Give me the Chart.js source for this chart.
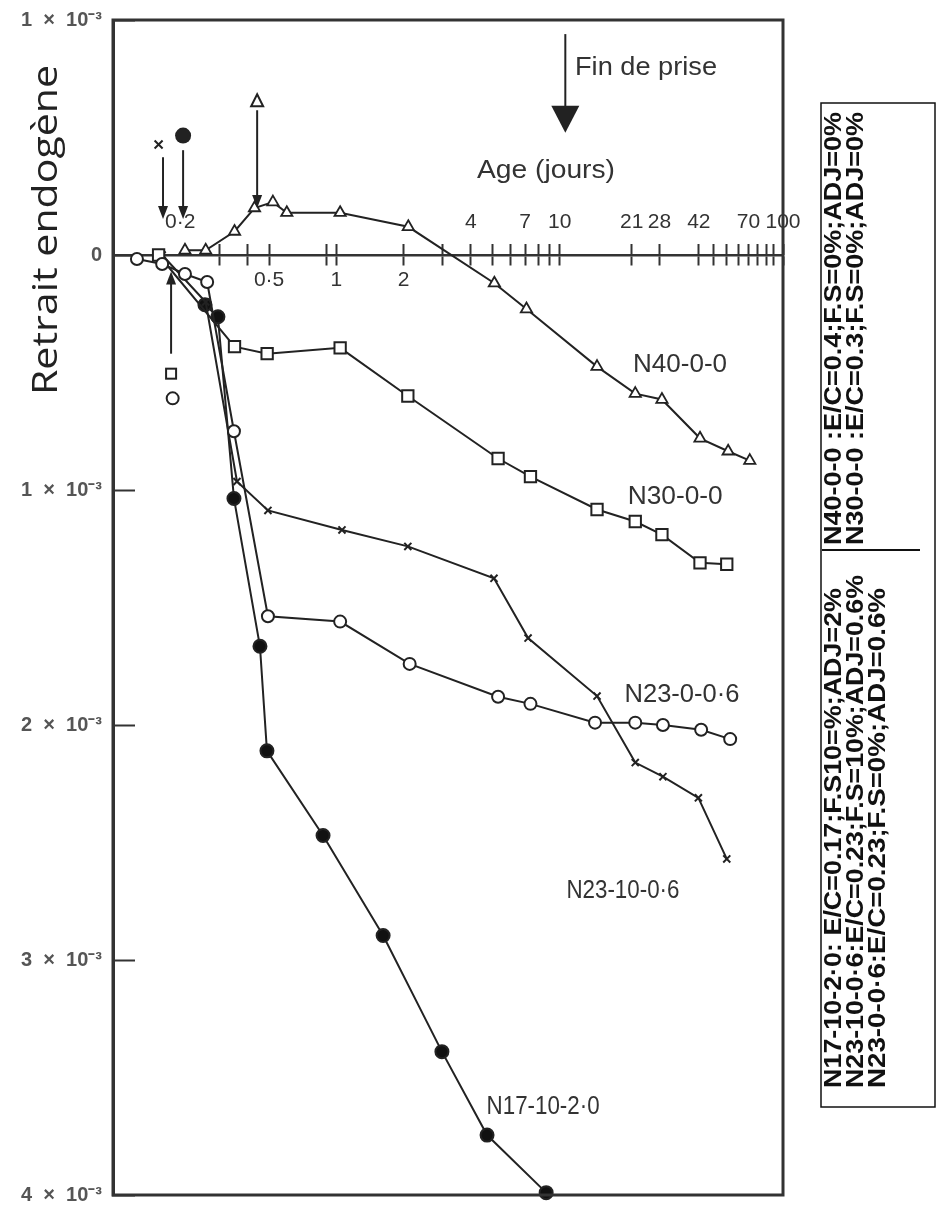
<!DOCTYPE html>
<html>
<head>
<meta charset="utf-8">
<script src="https://cdn.jsdelivr.net/npm/chart.js@4.4.1/dist/chart.umd.min.js"></script>
<style>
  html, body { margin: 0; padding: 0; background: #fff; }
  #wrap { width: 937px; height: 1207px; position: relative; }
</style>
</head>
<body>
<div id="wrap"><canvas id="chart"></canvas></div>
<script>
// Age in days, endogenous shrinkage in units of 1e-3 (positive = shrinkage, drawn downward)
const ageN40 = [0.21, 0.26, 0.35, 0.43, 0.52, 0.6, 1.04, 2.1, 5.1, 7.1, 14.7, 21.8, 28.7, 42.5, 56.8, 71];
const shrinkN40 = [-0.02, -0.02, -0.10, -0.20, -0.225, -0.18, -0.18, -0.12, 0.12, 0.23, 0.475, 0.59, 0.615, 0.78, 0.835, 0.875];

const ageN30 = [0.16, 0.35, 0.49, 1.04, 2.09, 5.3, 7.4, 14.7, 21.8, 28.7, 42.5, 56];
const shrinkN30 = [0, 0.39, 0.42, 0.395, 0.60, 0.866, 0.943, 1.083, 1.134, 1.19, 1.31, 1.316];

const ageN23_0 = [0.128, 0.166, 0.21, 0.264, 0.348, 0.494, 1.04, 2.13, 5.3, 7.4, 14.4, 21.8, 29, 43, 58];
const shrinkN23_0 = [0.017, 0.038, 0.081, 0.115, 0.75, 1.537, 1.56, 1.74, 1.88, 1.91, 1.99, 1.99, 2.0, 2.02, 2.06];

const ageN23_10 = [0.166, 0.26, 0.359, 0.494, 1.06, 2.09, 5.08, 7.22, 14.7, 21.8, 29, 41.8, 56];
const shrinkN23_10 = [0, 0.2, 0.964, 1.087, 1.17, 1.24, 1.376, 1.63, 1.877, 2.16, 2.22, 2.31, 2.57];

const ageN17 = [0.258, 0.295, 0.348, 0.455, 0.489, 0.872, 1.62, 2.97, 4.73, 8.7];
const shrinkN17 = [0.212, 0.263, 1.036, 1.665, 2.11, 2.47, 2.896, 3.39, 3.745, 3.99];

// axis ticks
const xTickMarks = [0.3, 0.4, 0.5, 0.9, 1, 2, 3, 4, 5, 6, 7, 8, 9, 10, 21, 28, 42, 49, 56, 63, 70, 77, 84, 91, 100];
const xLabelsBelow = { 0.5: '0·5', 1: '1', 2: '2' };
const xLabelsAbove = { 0.2: '0·2', 4: '4', 7: '7', 10: '10', 21: '21', 28: '28', 42: '42', 70: '70', 100: '100' };
const yTicks = [-1, 0, 1, 2, 3, 4];

// series names drawn next to the curves, with anchor (age, shrinkage)
const seriesNames = ['N40-0-0', 'N30-0-0', 'N23-0-0·6', 'N23-10-0·6', 'N17-10-2·0'];
const nameAnchors = [[34.6, 0.467], [32.9, 1.028], [35.3, 1.873], [19.2, 2.705], [8.43, 3.626]];
const nameWidths = [94, 95, 115, 113, 113];

const legendLines = [
  'N17-10-2·0: E/C=0.17;F.S10=%;ADJ=2%',
  'N23-10-0·6:E/C=0.23;F.S=10%;ADJ=0.6%',
  'N23-0-0·6:E/C=0.23;F.S=0%;ADJ=0.6%',
  'N40-0-0 :E/C=0.4;F.S=0%;ADJ=0%',
  'N30-0-0 :E/C=0.3;F.S=0%;ADJ=0%'
];

const INK = '#222';

function points(ages, vals) {
  return ages.map((a, i) => ({ x: a, y: vals[i] }));
}

function series(label, ages, vals, style) {
  return Object.assign({
    label,
    data: points(ages, vals),
    borderColor: INK,
    borderWidth: 2,
    pointBorderColor: INK,
    pointBorderWidth: 2,
    pointBackgroundColor: '#fff',
    tension: 0,
    fill: false,
    clip: false
  }, style);
}

// text squeezed/stretched to a given length
function fitted(ctx, text, x, y, len, font, opts = {}) {
  ctx.save();
  ctx.font = font;
  ctx.fillStyle = opts.color || INK;
  ctx.textAlign = opts.align || 'left';
  ctx.textBaseline = opts.baseline || 'alphabetic';
  const w = ctx.measureText(text).width;
  ctx.translate(x, y);
  if (opts.rotate) ctx.rotate(opts.rotate);
  ctx.scale(len / w, 1);
  ctx.fillText(text, 0, 0);
  ctx.restore();
}

function arrow(ctx, x, y1, y2, headLen, headW) {
  const dir = y2 > y1 ? 1 : -1;
  ctx.beginPath();
  ctx.moveTo(x, y1);
  ctx.lineTo(x, y2 - dir * headLen * 0.8);
  ctx.stroke();
  ctx.beginPath();
  ctx.moveTo(x, y2);
  ctx.lineTo(x - headW / 2, y2 - dir * headLen);
  ctx.lineTo(x + headW / 2, y2 - dir * headLen);
  ctx.closePath();
  ctx.fill();
}

const notes = {
  id: 'notes',
  afterDatasetsDraw(chart) {
    const { ctx, chartArea: a } = chart;
    const xs = chart.scales.x, ys = chart.scales.y;
    const px = v => xs.getPixelForValue(v), py = v => ys.getPixelForValue(v);

    ctx.save();
    // plot frame
    ctx.strokeStyle = '#333';
    ctx.lineWidth = 3;
    ctx.strokeRect(a.left, a.top, a.right - a.left, a.bottom - a.top);

    // setting arrows
    ctx.strokeStyle = INK;
    ctx.fillStyle = INK;
    ctx.lineWidth = 2;
    arrow(ctx, px(0.1675), py(-0.416), py(-0.153), 13, 10);
    arrow(ctx, px(0.206), py(-0.446), py(-0.153), 13, 10);
    arrow(ctx, px(0.442), py(-0.616), py(-0.2), 13, 10);
    arrow(ctx, px(0.182), py(0.42), py(0.07), 13, 10);
    arrow(ctx, px(10.6), py(-0.94), py(-0.52), 27, 28);

    // symbols above / below the arrows
    let x = px(0.16), y = py(-0.47);
    ctx.beginPath();
    ctx.moveTo(x - 4, y - 4); ctx.lineTo(x + 4, y + 4);
    ctx.moveTo(x + 4, y - 4); ctx.lineTo(x - 4, y + 4);
    ctx.stroke();
    ctx.beginPath();
    ctx.arc(px(0.206), py(-0.508), 8, 0, Math.PI * 2);
    ctx.fill();
    x = px(0.442); y = py(-0.654);
    ctx.beginPath();
    ctx.moveTo(x, y - 7); ctx.lineTo(x + 6, y + 5); ctx.lineTo(x - 6, y + 5); ctx.closePath();
    ctx.stroke();
    x = px(0.182); y = py(0.505);
    ctx.strokeRect(x - 5, y - 5, 10, 10);
    ctx.beginPath();
    ctx.arc(px(0.185), py(0.61), 6, 0, Math.PI * 2);
    ctx.stroke();

    // texts in the plot
    const labelFont = '25px "Liberation Sans", Arial, sans-serif';
    fitted(ctx, 'Fin de prise', 575, 75, 142, labelFont, { color: '#333' });
    fitted(ctx, 'Age (jours)', 477, 178, 138, labelFont, { color: '#333' });
    seriesNames.forEach((n, i) => {
      const [ax, ay] = nameAnchors[i];
      fitted(ctx, n, px(ax), py(ay), nameWidths[i], '26px "Liberation Sans", Arial, sans-serif',
        { align: 'center', baseline: 'middle', color: '#333' });
    });

    // y title
    fitted(ctx, 'Retrait endogène', 47, 395, 330, '34px "Open Sans", sans-serif',
      { baseline: 'middle', rotate: -Math.PI / 2, color: '#222' });

    // legend box on the right
    ctx.strokeStyle = '#111';
    ctx.lineWidth = 1.5;
    ctx.strokeRect(821, 103, 114, 1004);
    ctx.lineWidth = 2;
    ctx.beginPath();
    ctx.moveTo(822, 550); ctx.lineTo(920, 550);
    ctx.stroke();
    const legFont = 'bold 23px "Liberation Sans Narrow", "Liberation Sans", sans-serif';
    const legCols = [835, 857, 879, 835, 857];
    const legStart = [1088, 1088, 1088, 545, 545];
    const legEnd = [588, 575, 588, 112, 112];
    legendLines.forEach((t, i) => {
      fitted(ctx, t, legCols[i], legStart[i], legStart[i] - legEnd[i], legFont,
        { baseline: 'middle', rotate: -Math.PI / 2, color: '#111' });
    });
    ctx.restore();
  }
};

const xCommon = {
  type: 'logarithmic',
  min: 0.1,
  max: 100,
  position: { y: 0 },
  border: { display: true, color: '#333', width: 2.5 },
  ticks: {
    autoSkip: false,
    maxRotation: 0,
    color: '#333',
    font: { family: '"Liberation Sans", Arial, sans-serif', size: 21 }
  }
};

new Chart(document.getElementById('chart'), {
  type: 'line',
  data: {
    datasets: [
      series('N23-0-0·6', ageN23_0, shrinkN23_0, { pointStyle: 'circle', pointRadius: 6 }),
      series('N30-0-0', ageN30, shrinkN30, { pointStyle: 'rect', pointRadius: 8 }),
      series('N40-0-0', ageN40, shrinkN40, { pointStyle: 'triangle', pointRadius: 6.5, pointBorderWidth: 1.8 }),
      series('N23-10-0·6', ageN23_10, shrinkN23_10, { pointStyle: 'crossRot', pointRadius: 5 }),
      series('N17-10-2·0', ageN17, shrinkN17, { pointStyle: 'circle', pointRadius: 6.5, pointBackgroundColor: '#111' })
    ]
  },
  options: {
    responsive: true,
    maintainAspectRatio: false,
    animation: false,
    devicePixelRatio: 1,
    layout: { padding: { left: 0, top: 20, right: 154, bottom: 12 } },
    plugins: { legend: { display: false }, tooltip: { enabled: false } },
    scales: {
      x: Object.assign({}, xCommon, {
        afterBuildTicks: s => { s.ticks = xTickMarks.map(v => ({ value: v })); },
        grid: { drawOnChartArea: false, drawTicks: true, tickLength: 9, tickWidth: 2, tickColor: '#333' },
        ticks: Object.assign({}, xCommon.ticks, {
          padding: 4,
          callback: v => xLabelsBelow[v] || ''
        })
      }),
      x2: Object.assign({}, xCommon, {
        axis: 'x',
        border: { display: false },
        afterBuildTicks: s => { s.ticks = [0.2].concat(xTickMarks).map(v => ({ value: v })); },
        grid: {
          drawOnChartArea: false, drawTicks: true, tickLength: -11, tickWidth: 2,
          tickColor: c => (c.tick && c.tick.value === 0.2 ? 'rgba(0,0,0,0)' : '#333')
        },
        ticks: Object.assign({}, xCommon.ticks, {
          padding: -34,
          callback: v => xLabelsAbove[v] || ''
        })
      }),
      y: {
        type: 'linear',
        min: -1,
        max: 4,
        reverse: true,
        position: 'left',
        afterFit: s => { s.width = 113; s.paddingTop = 0; s.paddingBottom = 0; },
        afterBuildTicks: s => { s.ticks = yTicks.map(v => ({ value: v })); },
        border: { display: true, color: '#333', width: 3 },
        grid: { drawOnChartArea: false, drawTicks: true, tickLength: -22, tickWidth: 2, tickColor: '#333' },
        ticks: {
          padding: 33,
          color: '#555',
          font: { family: '"Liberation Sans", Arial, sans-serif', size: 20, weight: 'bold' },
          callback: v => (v === 0 ? '0' : Math.abs(v) + '  ×  10⁻³')
        }
      }
    }
  },
  plugins: [notes]
});
</script>
</body>
</html>
